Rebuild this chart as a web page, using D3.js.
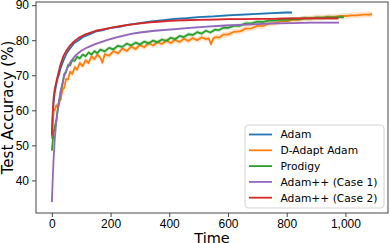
<!DOCTYPE html>
<head>
<meta charset="utf-8">
<style>
  body { margin: 0; background: #fff; }
  svg { display: block; font-family: "DejaVu Sans", sans-serif; }
  .axis path, .axis line { stroke: #333; stroke-width: 0.9px; }
  .axis text { font-size: 12px; fill: #000; }
  .line { fill: none; stroke-width: 1.8px; stroke-linejoin: round; }
</style>
</head>
<svg width="390" height="243"></svg>
<script src="https://cdn.jsdelivr.net/npm/d3@7"></script>
<script>
// series names, in drawing order (last one on top)
var names = ["Adam", "D-Adapt Adam", "Prodigy", "Adam++ (Case 1)", "Adam++ (Case 2)"];
var colors = ["#1f77b4", "#ff7f0e", "#2ca02c", "#9467bd", "#d62728"];
var spread = [0.3, 0.8, 0.6, 0.3, 0.3]; // std band, accuracy points

var xTicks = [0, 200, 400, 600, 800, 1000];
var yTicks = [40, 50, 60, 70, 80, 90];

var adamT = [0,3,6,10,15,20,25,30,40,50,60,75,90,110,130,150,170,200,230,260,300,340,380,420,460,500,550,600,650,700,750,800,818];
var adamV = [52.0,58.2,62.3,65.1,67.3,69.2,70.4,72.1,74.3,76.2,77.4,79.1,79.9,81.1,81.7,82.5,82.8,83.5,83.8,84.4,84.9,85.4,85.7,86.1,86.3,86.6,86.8,87.1,87.3,87.5,87.7,87.9,87.9];

var dadaptT = [0,3,6,10,15,20,25,30,36,42,48,55,62,70,78,86,95,105,115,125,135,145,155,165,172,180,195,210,225,240,255,270,285,300,315,330,345,360,375,390,405,420,435,450,465,480,495,510,525,535,542,550,560,570,585,600,620,640,660,680,700,720,740,760,780,800,820,840,860,880,900,920,940,960,980,1000,1020,1040,1060,1080,1091];
var dadaptV = [51.9,56.5,59.8,60.2,61.4,60.9,62.8,63.0,65.9,66.4,68.9,68.8,71.0,70.4,72.3,71.6,73.5,72.6,74.3,73.5,75.4,74.6,75.9,75.0,73.6,76.0,75.6,76.9,76.2,77.6,76.9,78.2,77.5,78.6,78.0,79.2,78.5,79.5,78.9,79.9,79.2,80.1,79.5,80.4,79.8,80.6,80.0,80.8,80.3,80.5,78.8,80.6,80.9,80.8,81.6,81.6,82.4,82.5,83.3,83.4,84.1,84.1,84.8,84.8,85.4,85.4,85.8,85.8,86.2,86.2,86.5,86.4,86.7,86.6,86.9,86.9,87.1,87.1,87.3,87.3,87.4];

var prodigyT = [0,3,6,10,15,20,25,30,36,42,48,55,62,70,78,86,95,105,115,125,135,145,155,165,180,195,210,225,240,255,270,285,300,315,330,345,360,375,390,405,420,435,450,465,480,495,510,525,540,555,570,585,600,620,640,660,680,700,720,740,760,780,800,820,840,860,880,900,920,940,960,980,995];
var prodigyV = [48.5,51.2,53.6,55.4,57.0,60.3,62.1,65.4,67.2,70.3,70.8,72.9,72.8,74.4,74.1,75.3,74.8,75.9,75.4,76.5,75.9,76.9,76.3,77.3,76.8,77.8,77.4,78.4,78.1,79.0,78.5,79.3,78.8,79.6,79.1,79.9,79.4,80.2,79.8,80.7,80.3,81.2,80.9,81.7,81.5,82.3,81.9,82.7,82.2,83.0,82.9,83.6,83.5,84.1,84.1,84.8,84.8,85.3,85.2,85.6,85.6,85.9,85.8,86.1,86.0,86.3,86.2,86.4,86.4,86.5,86.5,86.6,86.6];

var case1T = [0,3,6,10,15,20,25,30,40,50,65,80,100,120,145,170,190,220,245,270,300,350,410,470,530,590,640,700,760,820,880,940,978];
var case1V = [33.8,40.5,46.2,52.0,56.6,60.1,63.0,65.4,69.2,71.6,74.0,75.6,77.0,77.9,78.8,79.5,80.1,80.8,81.3,81.8,82.2,82.7,83.1,83.5,83.9,84.2,84.4,84.6,84.8,84.9,85.0,85.0,85.0];

var case2T = [0,3,6,10,15,20,25,30,40,50,60,75,90,110,130,150,170,200,230,260,300,350,400,450,500,550,600,650,700,750,800,850,900,950,976];
var case2V = [52.8,59.2,63.6,66.2,68.1,69.8,71.6,73.2,75.6,77.1,78.3,79.6,80.6,81.5,82.1,82.7,83.0,83.5,84.0,84.4,84.8,85.2,85.5,85.7,85.8,85.9,86.0,86.0,86.1,86.1,86.2,86.2,86.2,86.2,86.2];

var series = [
  d3.zip(adamT, adamV),
  d3.zip(dadaptT, dadaptV),
  d3.zip(prodigyT, prodigyV),
  d3.zip(case1T, case1V),
  d3.zip(case2T, case2V)
];

var svg = d3.select("svg"),
  margin = { top: 2, right: 2, bottom: 30, left: 36 },
  width = +svg.attr("width") - margin.left - margin.right,
  height = +svg.attr("height") - margin.top - margin.bottom,
  g = svg.append("g").attr("transform", "translate(" + margin.left + "," + margin.top + ")");

var x = d3.scaleLinear().domain([-54, 1145]).range([0, width]),
  y = d3.scaleLinear().domain([30.7, 90.9]).range([height, 0]);

var line = d3.line()
  .x(function(d) { return x(d[0]); })
  .y(function(d) { return y(d[1]); });

series.forEach(function(s, i) {
  var area = d3.area()
    .x(function(d) { return x(d[0]); })
    .y0(function(d) { return y(d[1] - spread[i]); })
    .y1(function(d) { return y(d[1] + spread[i]); });
  g.append("path")
    .datum(s)
    .attr("d", area)
    .attr("fill", colors[i])
    .attr("opacity", 0.22);
  g.append("path")
    .datum(s)
    .attr("class", "line")
    .attr("d", line)
    .style("stroke", colors[i]);
});

// frame
g.append("rect")
  .attr("width", width)
  .attr("height", height)
  .attr("fill", "none")
  .attr("stroke", "#333")
  .attr("stroke-width", 0.9);

g.append("g")
  .attr("class", "axis")
  .attr("transform", "translate(0," + height + ")")
  .call(d3.axisBottom(x).tickValues(xTicks).tickSize(4).tickPadding(2))
  .call(function(a) { a.select(".domain").remove(); });

g.append("g")
  .attr("class", "axis")
  .call(d3.axisLeft(y).tickValues(yTicks).tickSize(4).tickPadding(3))
  .call(function(a) { a.select(".domain").remove(); });

svg.append("text")
  .attr("x", margin.left + width / 2)
  .attr("y", 242.5)
  .attr("text-anchor", "middle")
  .style("font-size", "14.5px")
  .text("Time");

svg.append("text")
  .attr("transform", "translate(13," + (margin.top + height / 2) + ") rotate(-90)")
  .attr("text-anchor", "middle")
  .style("font-size", "15px")
  .text("Test Accuracy (%)");

// legend
var lg = svg.append("g").attr("transform", "translate(245,125)");
lg.append("rect")
  .attr("width", 139)
  .attr("height", 83)
  .attr("rx", 3)
  .attr("fill", "#fff")
  .attr("fill-opacity", 0.8)
  .attr("stroke", "#d0d0d0")
  .attr("stroke-width", 0.9);

var item = lg.selectAll(".item")
  .data(names)
  .enter()
  .append("g")
  .attr("transform", function(d, i) { return "translate(0," + (9.5 + i * 15.8) + ")"; });

item.append("line")
  .attr("x1", 4).attr("x2", 27)
  .attr("stroke", function(d, i) { return colors[i]; })
  .attr("stroke-width", 1.8);

item.append("text")
  .attr("x", 35.5)
  .attr("dy", "0.36em")
  .style("font-size", "10.7px")
  .text(function(d) { return d; });
</script>
